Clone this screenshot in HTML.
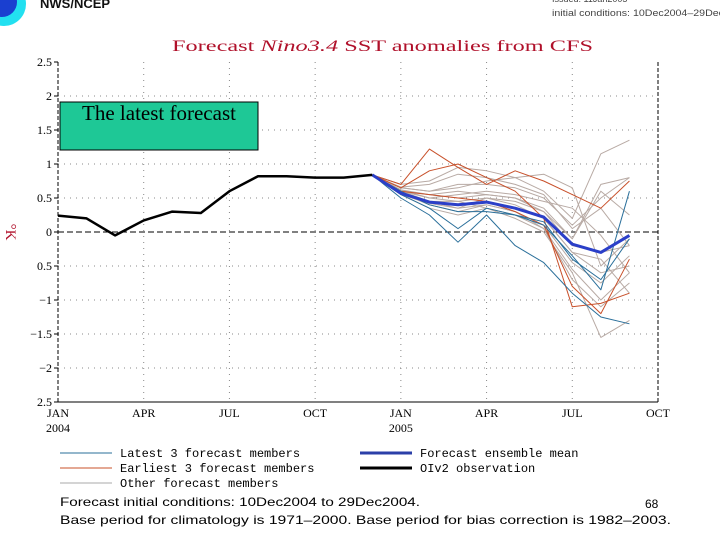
<!DOCTYPE html>
<html><head><meta charset="utf-8"><style>
body{margin:0;background:#fff;width:720px;height:540px;overflow:hidden}
</style></head><body>
<svg id="chart" width="720" height="540" viewBox="0 0 720 540" xmlns="http://www.w3.org/2000/svg" font-family="Liberation Mono, monospace">
<g>
<circle cx="4" cy="4" r="22" fill="#22e0f0"/>
<circle cx="2" cy="2" r="15" fill="#1a3fd0"/>
</g>
<text x="40" y="8" font-size="13" font-weight="bold" fill="#111" font-family="Liberation Sans, sans-serif">NWS/NCEP</text>
<text x="552" y="2" font-size="9" fill="#444" font-family="Liberation Sans, sans-serif">Issued: 11Jan2005</text>
<text x="552" y="16" font-size="9" fill="#444" font-family="Liberation Sans, sans-serif" textLength="172" lengthAdjust="spacingAndGlyphs">initial conditions: 10Dec2004–29Dec</text>
<text x="172" y="51" font-size="16" fill="#b0102a" font-family="Liberation Serif, serif" textLength="421" lengthAdjust="spacingAndGlyphs">Forecast <tspan font-style="italic">Nino3.4</tspan> SST anomalies from CFS</text>
<text transform="translate(6,232) rotate(90)" text-anchor="middle" font-size="15" fill="#b0102a" font-family="Liberation Serif, serif">°K</text>
<g id="grid"></g>
<g id="series"></g>
<rect x="60" y="102" width="198" height="48" fill="#1ec896" stroke="#000" stroke-width="1"/>
<text x="159" y="120" text-anchor="middle" font-size="21" font-family="Liberation Serif, serif" fill="#000">The latest forecast</text>
<g font-size="12" fill="#000" font-family="Liberation Mono, monospace">
<line x1="60" y1="453" x2="112" y2="453" stroke="#2a6f9a" stroke-width="1"/>
<text x="120" y="457">Latest 3 forecast members</text>
<line x1="60" y1="468" x2="112" y2="468" stroke="#c8502a" stroke-width="1"/>
<text x="120" y="472">Earliest 3 forecast members</text>
<line x1="60" y1="483" x2="112" y2="483" stroke="#aaa" stroke-width="1"/>
<text x="120" y="487">Other forecast members</text>
<line x1="360" y1="453" x2="412" y2="453" stroke="#2b3fa8" stroke-width="3"/>
<text x="420" y="457">Forecast ensemble mean</text>
<line x1="360" y1="468" x2="412" y2="468" stroke="#000" stroke-width="3"/>
<text x="420" y="472">OIv2 observation</text>
</g>
<text x="60" y="506" font-size="12" font-family="Liberation Sans, sans-serif" textLength="360" lengthAdjust="spacingAndGlyphs">Forecast initial conditions: 10Dec2004 to 29Dec2004.</text>
<text x="645" y="508" font-size="12" font-family="Liberation Sans, sans-serif">68</text>
<text x="60" y="524" font-size="12" font-family="Liberation Sans, sans-serif" textLength="611" lengthAdjust="spacingAndGlyphs">Base period for climatology is 1971–2000. Base period for bias correction is 1982–2003.</text>
</svg>
<script>
const yTicks=[2.5,2,1.5,1,0.5,0,-0.5,-1,-1.5,-2,-2.5];
const yTickLabels=["2.5","2","1.5","1","0.5","0","0.5","−1","−1.5","−2","2.5"];
const xTickMonths=[0,3,6,9,12,15,18,21];
const xTickLabels=["JAN","APR","JUL","OCT","JAN","APR","JUL","OCT"];
const xYearLabels=["2004","","","","2005","","",""];
const obsMonths=[0,1,2,3,4,5,6,7,8,9,10,11];
const obsValues=[0.24,0.2,-0.05,0.17,0.3,0.28,0.6,0.82,0.82,0.8,0.8,0.84];
const fcMonths=[11,12,13,14,15,16,17,18,19,20];
const meanValues=[0.84,0.57,0.44,0.4,0.44,0.35,0.22,-0.18,-0.3,-0.05];
const latestMembers=[
[0.84,0.5,0.25,-0.15,0.25,-0.2,-0.45,-0.9,-1.25,-1.35],
[0.84,0.55,0.35,0.05,0.35,0.25,0.1,-0.35,-0.85,0.6],
[0.84,0.6,0.4,0.3,0.3,0.25,0.15,-0.4,-0.7,-0.1]];
const earliestMembers=[
[0.84,0.7,1.22,0.95,0.7,0.9,0.75,0.55,0.35,0.75],
[0.84,0.65,0.9,1.0,0.8,0.6,0.2,-1.1,-1.05,-0.9],
[0.84,0.6,0.55,0.5,0.45,0.3,0.1,-0.8,-1.2,-0.4]];
const otherMembers=[
[0.84,0.7,0.75,0.95,0.9,0.8,0.6,0.2,1.15,1.35],
[0.84,0.65,0.6,0.7,0.7,0.65,0.5,0.1,0.5,0.8],
[0.84,0.6,0.55,0.6,0.55,0.5,0.3,-0.1,0.7,0.8],
[0.84,0.62,0.5,0.45,0.5,0.45,0.3,-0.2,-0.3,-0.2],
[0.84,0.58,0.45,0.4,0.45,0.35,0.2,-0.3,-0.6,-0.5],
[0.84,0.55,0.42,0.35,0.4,0.3,0.1,-0.45,-0.75,-0.35],
[0.84,0.6,0.5,0.55,0.6,0.55,0.45,0.35,-0.05,-0.6],
[0.84,0.65,0.6,0.65,0.75,0.8,0.85,0.65,-0.5,-0.1],
[0.84,0.55,0.35,0.25,0.35,0.2,0.0,-0.6,-1.55,-1.3],
[0.84,0.6,0.45,0.35,0.5,0.4,0.2,-0.3,-0.4,-0.9],
[0.84,0.62,0.55,0.5,0.55,0.5,0.35,-0.1,0.6,0.25],
[0.84,0.57,0.4,0.3,0.4,0.3,0.05,-0.55,-1.0,-0.6],
[0.84,0.66,0.7,0.85,0.8,0.7,0.55,0.05,0.35,-0.2],
[0.84,0.6,0.45,0.45,0.35,0.25,0.05,-0.7,-1.1,-0.75]];

const NS="http://www.w3.org/2000/svg";
const X0=58,X1=658,Y0=232,PXU=68;
function xs(m){return X0+m*(X1-X0)/21;}
function ys(v){return Y0-v*PXU;}
function mk(tag,attrs,parent){const e=document.createElementNS(NS,tag);for(const k in attrs)e.setAttribute(k,attrs[k]);parent.appendChild(e);return e;}
const grid=document.getElementById('grid'),ser=document.getElementById('series');
yTicks.forEach((v,i)=>{
 if(v!==2.5&&v!==-2.5&&v!==0){const l=mk('line',{x1:X0,x2:X1,y1:ys(v),y2:ys(v),stroke:'#888','stroke-dasharray':'1,5'},grid);
 
 }
 const t=mk('line',{x1:X0-4,x2:X0,y1:ys(v),y2:ys(v),stroke:'#000'},grid);
 
 
 const tx=mk('text',{x:X0-6,y:ys(v)+4,'text-anchor':'end','font-size':'12',fill:'#000','font-family':'Liberation Serif, serif'},grid);
 tx.textContent=yTickLabels[i];
 
 
});
xTickMonths.forEach((m,i)=>{
 if(i>0&&i<xTickMonths.length-1){const l=mk('line',{x1:xs(m),x2:xs(m),y1:ys(2.5),y2:ys(-2.5),stroke:'#888','stroke-dasharray':'1,5'},grid);
 
 }
 const tx=mk('text',{x:xs(m),y:ys(-2.5)+15,'text-anchor':'middle','font-size':'12',fill:'#000','font-family':'Liberation Serif, serif'},grid);
 tx.textContent=xTickLabels[i];
 
 
 if(xYearLabels[i]){const ty=mk('text',{x:xs(m),y:ys(-2.5)+30,'text-anchor':'middle','font-size':'12',fill:'#000','font-family':'Liberation Serif, serif'},grid);
 ty.textContent=xYearLabels[i];
 
 }
});
const ax=mk('line',{x1:X0,x2:X0,y1:ys(2.5),y2:ys(-2.5),stroke:'#000','stroke-dasharray':'4,2'},grid);


const rx=mk('line',{x1:X1,x2:X1,y1:ys(2.5),y2:ys(-2.5),stroke:'#000','stroke-dasharray':'4,2'},grid);


const bx=mk('line',{x1:X0,x2:X1,y1:ys(-2.5),y2:ys(-2.5),stroke:'#000'},grid);


const zl=mk('line',{x1:X0,x2:X1,y1:ys(0),y2:ys(0),stroke:'#000','stroke-dasharray':'6,3'},grid);


function line(months,vals,color,w,name){
 const p=mk('polyline',{points:vals.map((v,i)=>xs(months[i])+','+ys(v)).join(' '),fill:'none',stroke:color,'stroke-width':w,'stroke-linejoin':'round'},ser);
 
 
}
otherMembers.forEach(s=>line(fcMonths,s,'#b8aaa4',1,'other-member-line'));
earliestMembers.forEach(s=>line(fcMonths,s,'#c8502a',1,'earliest-member-line'));
latestMembers.forEach(s=>line(fcMonths,s,'#2a6f9a',1,'latest-member-line'));
line(fcMonths,meanValues,'#2b3fc8',3,'ensemble-mean-line');
line(obsMonths,obsValues,'#000',2.5,'observation-line');
</script>
</body></html>
